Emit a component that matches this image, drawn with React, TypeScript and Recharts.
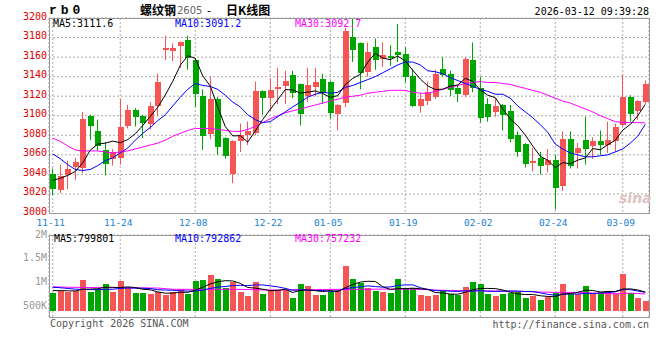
import { ComposedChart, Bar, Line, XAxis, YAxis, CartesianGrid } from 'recharts'

// trading days, 11-11 .. 03-12
const DATES = [
  '11-11', '11-12', '11-13', '11-14', '11-17', '11-18', '11-19', '11-20', '11-21',
  '11-24', '11-25', '11-26', '11-27', '11-28',
  '12-01', '12-02', '12-03', '12-04', '12-05',
  '12-08', '12-09', '12-10', '12-11', '12-12',
  '12-15', '12-16', '12-17', '12-18', '12-19',
  '12-22', '12-23', '12-24', '12-25', '12-26',
  '12-29', '12-30', '12-31',
  '01-05', '01-06', '01-07', '01-08', '01-09',
  '01-12', '01-13', '01-14', '01-15', '01-16',
  '01-19', '01-20', '01-21', '01-22', '01-23',
  '01-26', '01-27', '01-28', '01-29', '01-30',
  '02-02', '02-03', '02-04', '02-05', '02-06',
  '02-09', '02-10', '02-11', '02-12', '02-13',
  '02-24', '02-25', '02-26', '02-27',
  '03-02', '03-03', '03-04', '03-05', '03-06',
  '03-09', '03-10', '03-11', '03-12',
]
const DATE_TICKS = ['11-11', '11-24', '12-08', '12-22', '01-05', '01-19', '02-02', '02-24', '03-09']

const OPEN = [
  3040, 3024, 3039, 3048, 3047, 3100, 3084, 3065, 3056, 3057,
  3090, 3106, 3100, 3092, 3110, 3167, 3166, 3171, 3178, 3157,
  3120, 3081, 3117, 3077, 3040, 3074, 3080, 3082, 3125, 3118,
  3127, 3130, 3142, 3132, 3120, 3129, 3138, 3135, 3102, 3113,
  3181, 3174, 3145, 3170, 3158, 3161, 3165, 3163, 3141, 3110,
  3115, 3119, 3148, 3143, 3128, 3121, 3157, 3128, 3112, 3104,
  3111, 3105, 3080, 3071, 3052, 3057, 3050, 3055, 3028, 3076,
  3062, 3075, 3069, 3074, 3070, 3074, 3091, 3119, 3105, 3114,
]
const HIGH = [
  3046, 3050, 3054, 3057, 3104, 3101, 3096, 3073, 3066, 3117,
  3111, 3108, 3101, 3114, 3143, 3182, 3174, 3176, 3182, 3159,
  3127, 3140, 3119, 3078, 3075, 3092, 3094, 3135, 3126, 3138,
  3149, 3146, 3146, 3133, 3149, 3149, 3143, 3136, 3112, 3190,
  3199, 3175, 3175, 3179, 3175, 3172, 3194, 3170, 3148, 3123,
  3135, 3147, 3160, 3146, 3132, 3160, 3175, 3140, 3118, 3118,
  3112, 3111, 3084, 3072, 3067, 3063, 3066, 3060, 3084, 3084,
  3072, 3099, 3078, 3085, 3094, 3092, 3142, 3121, 3116, 3136,
]
const LOW = [
  3019, 3021, 3025, 3034, 3041, 3075, 3064, 3039, 3049, 3050,
  3087, 3089, 3077, 3086, 3100, 3157, 3156, 3149, 3147, 3109,
  3065, 3076, 3060, 3056, 3031, 3063, 3070, 3080, 3101, 3105,
  3112, 3112, 3118, 3090, 3114, 3120, 3112, 3097, 3085, 3109,
  3155, 3127, 3140, 3147, 3150, 3151, 3155, 3134, 3109, 3103,
  3111, 3117, 3140, 3120, 3114, 3119, 3124, 3093, 3094, 3099,
  3085, 3073, 3058, 3047, 3043, 3040, 3042, 3004, 3023, 3046,
  3046, 3050, 3056, 3060, 3062, 3063, 3089, 3094, 3096, 3112,
]
const CLOSE = [
  3025, 3038, 3046, 3053, 3097, 3090, 3069, 3051, 3063, 3089,
  3106, 3099, 3093, 3110, 3135, 3169, 3169, 3175, 3159, 3122,
  3079, 3117, 3068, 3059, 3074, 3080, 3084, 3125, 3118, 3126,
  3129, 3136, 3123, 3102, 3131, 3135, 3123, 3103, 3111, 3187,
  3167, 3144, 3165, 3157, 3162, 3159, 3162, 3140, 3110, 3117,
  3124, 3143, 3142, 3126, 3122, 3158, 3128, 3098, 3099, 3110,
  3101, 3076, 3063, 3051, 3054, 3049, 3055, 3026, 3076, 3049,
  3067, 3066, 3074, 3070, 3075, 3089, 3119, 3102, 3115, 3132,
]
const MA5 = [
  3034, 3036, 3039, 3043, 3051.8, 3064.8, 3071, 3072, 3074, 3072.4,
  3075.6, 3081.6, 3090, 3099.4, 3108.6, 3121.2, 3135.2, 3151.6, 3161.4, 3158.8,
  3140.8, 3130.4, 3109, 3089, 3079.4, 3079.6, 3073, 3084.4, 3096.2, 3106.6,
  3116.4, 3126.8, 3126.4, 3123.2, 3124.2, 3125.4, 3122.8, 3118.8, 3120.6, 3131.8,
  3138.2, 3142.4, 3154.8, 3164, 3159, 3157.4, 3161, 3156, 3146.6, 3137.6,
  3130.6, 3126.8, 3127.2, 3130.4, 3131.4, 3138.2, 3135.2, 3126.4, 3121, 3118.6,
  3107.2, 3096.8, 3089.8, 3080.2, 3069, 3058.6, 3054.4, 3047, 3052, 3051,
  3054.6, 3056.8, 3066.4, 3065.2, 3070.4, 3074.8, 3085.4, 3091, 3100, 3111.6,
]
const MA10 = [
  3061, 3056, 3050, 3045, 3044, 3045, 3049, 3054, 3057, 3062,
  3067, 3075, 3082, 3088, 3095, 3101, 3110, 3119, 3127, 3133,
  3131, 3130, 3127, 3121, 3114, 3109, 3101, 3096, 3093, 3094,
  3099, 3104, 3109, 3114, 3119, 3122, 3124, 3123, 3124, 3129,
  3131, 3134, 3137, 3140, 3144, 3148, 3152, 3155, 3155, 3152,
  3146, 3145, 3143, 3139, 3136, 3133, 3130, 3127, 3125, 3122,
  3122, 3118, 3110, 3104, 3098, 3091, 3083, 3071, 3066, 3062,
  3060, 3058, 3058, 3059, 3060, 3063, 3066, 3072, 3079, 3091.2,
]
const MA30 = [
  3077, 3074, 3069, 3065, 3064, 3064, 3064, 3063, 3062, 3063,
  3064, 3066, 3068, 3070, 3072, 3075, 3079, 3082, 3085, 3087,
  3087, 3087, 3086, 3085, 3084, 3084, 3086, 3089, 3093, 3097,
  3100, 3103, 3105, 3107, 3109, 3111, 3113, 3115, 3117, 3119,
  3120, 3121, 3123, 3124, 3125, 3126, 3126, 3126, 3124, 3123,
  3123, 3125, 3127, 3129, 3131, 3133, 3134, 3135, 3134, 3134,
  3133, 3132, 3130, 3128, 3126, 3124, 3121, 3118, 3115, 3113,
  3110, 3107, 3104, 3100, 3097, 3094, 3093, 3093, 3093, 3092.7,
]

// volume, in thousands
const VOL = [
  786, 821, 807, 821, 1053, 807, 856, 968, 807, 1032,
  877, 786, 786, 758, 807, 737, 807, 856, 758, 1032,
  1053, 1158, 1074, 877, 1003, 800, 723, 1010, 758, 842,
  842, 835, 674, 968, 926, 737, 737, 793, 842, 1347,
  1074, 989, 877, 821, 800, 779, 1074, 877, 877, 737,
  716, 737, 828, 758, 737, 905, 1010, 968, 758, 716,
  758, 779, 800, 681, 716, 632, 702, 779, 968, 758,
  758, 926, 758, 793, 821, 758, 1179, 779, 681, 611,
]
const VOL_MA5 = [
  830, 828, 825, 822, 857.6, 861.8, 868.8, 901, 898.2, 894,
  908, 894, 857.6, 847.8, 802.8, 774.8, 779, 793, 793, 838,
  901.2, 971.4, 1015, 1038.8, 1033, 982.4, 895.4, 882.6, 858.8, 826.6,
  835, 857.4, 790.2, 832.2, 849, 828, 808.4, 832.2, 807, 891.2,
  958.6, 1009, 1025.8, 1021.6, 912.2, 853.2, 870.2, 870.2, 881.4, 868.8,
  856.2, 788.8, 779, 755.2, 755.2, 793, 847.6, 875.6, 875.6, 871.4,
  842, 795.8, 762.2, 746.8, 746.8, 721.6, 706.2, 702, 759.4, 767.8,
  793, 837.8, 833.6, 798.6, 811.2, 811.2, 861.8, 866, 843.6, 799.8,
]
const VOL_MA10 = [
  900, 890, 875, 860, 855, 850, 850, 855, 858, 875.8,
  884.9, 881.4, 879.3, 873, 848.4, 841.4, 836.5, 825.3, 820.4, 820.4,
  838, 875.2, 904, 915.9, 935.5, 941.8, 933.4, 948.8, 948.8, 929.8,
  908.7, 876.4, 836.4, 845.5, 837.8, 831.5, 832.9, 811.2, 819.6, 870.1,
  893.3, 908.7, 929, 914.3, 901.7, 905.9, 939.6, 948, 951.5, 890.5,
  854.7, 829.5, 824.6, 818.3, 812, 824.6, 818.2, 827.3, 815.4, 813.3,
  817.5, 821.7, 818.9, 811.2, 809.1, 781.8, 751, 732.1, 753.1, 757.3,
  757.3, 772, 767.8, 779, 789.5, 802.1, 849.8, 849.8, 821.1, 792.9,
]
const VOL_MA30 = [
  910, 905, 900, 898, 896, 894, 893, 892, 891, 890,
  889, 888, 886, 885, 884, 870, 858, 856, 856, 856,
  856, 856, 856, 856, 856, 855, 852, 848, 845, 843,
  843, 845, 846, 847, 848, 850, 852, 855, 856, 856,
  856, 857, 858, 860, 862, 862, 862, 860, 858, 855,
  850, 842, 836, 832, 830, 828, 826, 824, 822, 821,
  820, 818, 815, 810, 805, 800, 795, 792, 792, 792,
  790, 785, 778, 770, 766, 765, 768, 775, 768, 757.2,
]

const PRICE_TICKS = [3000, 3020, 3040, 3060, 3080, 3100, 3120, 3140, 3160, 3180, 3200]
const VOL_TICKS = [500, 1000, 1500, 2000]
const VOL_TICK_LABELS = ['500K', '1M', '1.5M', '2M']
const VOL_FLOOR = 400

const rows = DATES.map((date, i) => ({
  date,
  open: OPEN[i],
  high: HIGH[i],
  low: LOW[i],
  close: CLOSE[i],
  ma5: MA5[i],
  ma10: MA10[i],
  ma30: MA30[i],
  vol: VOL[i],
  vma5: VOL_MA5[i],
  vma10: VOL_MA10[i],
  vma30: VOL_MA30[i],
}))

const RED = '#f65555'
const GREEN = '#00a600'
const MONO = '"DejaVu Sans Mono", "Liberation Mono", monospace'

function Candle(props: any) {
  const { x, y, width, height, payload } = props
  const top = Math.min(y, y + height)
  const h = Math.abs(height)
  const { open, close, high, low } = payload
  const k = h / (high - low || 1)
  const bTop = top + (high - Math.max(open, close)) * k
  const bBot = top + (high - Math.min(open, close)) * k
  const color = close >= open ? RED : GREEN
  const cx = Math.round(x + width / 2) - 0.5
  return (
    <g>
      <line x1={cx} x2={cx} y1={top} y2={top + h} stroke={color} strokeWidth={1} />
      <rect x={x} y={bTop} width={width} height={Math.max(bBot - bTop, 1)} fill={color} shapeRendering="crispEdges" />
    </g>
  )
}

function VolBar(props: any) {
  const { x, y, width, height, payload } = props
  const top = Math.min(y, y + height)
  const color = payload.close >= payload.open ? RED : GREEN
  return <rect x={x} y={top} width={width} height={Math.abs(height)} fill={color} shapeRendering="crispEdges" />
}

const PriceTick = ({ y, payload }: any) => (
  <text x={47} y={y - 2} textAnchor="end" dominantBaseline="central" fill="#e00000" fontFamily={MONO} fontSize={10}>
    {payload.value}
  </text>
)

const DateTick = ({ x, payload }: any) => (
  <text x={x - 2} y={222} textAnchor="middle" dominantBaseline="central" fill="#1a7fd4" fontFamily={MONO} fontSize={9.5}>
    {payload.value}
  </text>
)

const VolTick = ({ y, payload }: any) => (
  <text x={47} y={y - 1} textAnchor="end" dominantBaseline="central" fill="#999" fontFamily={MONO} fontSize={10}>
    {VOL_TICK_LABELS[VOL_TICKS.indexOf(payload.value)]}
  </text>
)

const NoTick = () => <g />

const txt = (left: number, top: number, color: string, extra: any = {}) => ({
  position: 'absolute' as const,
  left,
  top,
  color,
  fontFamily: MONO,
  fontSize: 10,
  lineHeight: '11px',
  whiteSpace: 'nowrap' as const,
  ...extra,
})

export default function App() {
  const grid = { stroke: '#aaa', strokeDasharray: '2 2' }
  const cjk = { fontFamily: '"Noto Sans CJK SC", sans-serif', fontSize: 12, lineHeight: '12px' }
  return (
    <div style={{ position: 'absolute', left: 0, top: 0, width: 660, height: 360, background: '#fff', overflow: 'hidden' }}>
      <div style={{ position: 'absolute', left: 0, top: 0 }}>
        <ComposedChart width={660} height={230} data={rows} margin={{ top: 18, right: 11, bottom: 0, left: 0 }}>
          <CartesianGrid {...grid} />
          <XAxis dataKey="date" ticks={DATE_TICKS} interval={0} height={16.5} tickLine={false} axisLine={false} tick={<DateTick />} />
          <YAxis type="number" domain={[3000, 3200]} ticks={PRICE_TICKS} interval={0} width={49} tickLine={false} axisLine={false} tick={<PriceTick />} />
          <Bar dataKey={(d: any) => [d.low, d.high]} barSize={6} shape={<Candle />} isAnimationActive={false} />
          <Line type="linear" dataKey="ma30" stroke="#ff00ff" strokeWidth={1} dot={false} isAnimationActive={false} />
          <Line type="linear" dataKey="ma10" stroke="#0000ff" strokeWidth={1} dot={false} isAnimationActive={false} />
          <Line type="linear" dataKey="ma5" stroke="#000" strokeWidth={1} dot={false} isAnimationActive={false} />
        </ComposedChart>
      </div>
      <div style={{ position: 'absolute', left: 0, top: 220 }}>
        <ComposedChart width={660} height={140} data={rows} margin={{ top: 15, right: 11, bottom: 42.5, left: 0 }}>
          <CartesianGrid {...grid} yAxisId="g" />
          <XAxis dataKey="date" ticks={DATE_TICKS} interval={0} height={0} tick={<NoTick />} tickLine={false} axisLine={false} />
          <YAxis type="number" domain={[263.4, 2000]} ticks={VOL_TICKS} interval={0} width={49} tickLine={false} axisLine={false} tick={<VolTick />} />
          <YAxis yAxisId="g" orientation="right" type="number" domain={[0, 4]} ticks={[0, 1, 2, 3, 4]} interval={0} width={0} tick={<NoTick />} tickLine={false} axisLine={false} />
          <Bar dataKey={(d: any) => [VOL_FLOOR, d.vol]} barSize={6} shape={<VolBar />} isAnimationActive={false} />
          <Line type="linear" dataKey="vma30" stroke="#ff00ff" strokeWidth={1} dot={false} isAnimationActive={false} />
          <Line type="linear" dataKey="vma10" stroke="#0000ff" strokeWidth={1} dot={false} isAnimationActive={false} />
          <Line type="linear" dataKey="vma5" stroke="#000" strokeWidth={1} dot={false} isAnimationActive={false} />
        </ComposedChart>
      </div>

      <div style={{ position: 'absolute', left: 49, top: 18, width: 601, height: 196, border: '1px solid #999', boxSizing: 'border-box' }} />
      <div style={{ position: 'absolute', left: 49, top: 235, width: 601, height: 83, border: '1px solid #999', boxSizing: 'border-box' }} />

      <div style={txt(49, 4, '#000', { fontFamily: '"Liberation Mono", monospace', fontWeight: 'bold', fontSize: 13, lineHeight: '13px', letterSpacing: 4 })}>rb0</div>
      <div style={txt(140, 4, '#000', { ...cjk, fontWeight: 'bold' })}>螺纹钢</div>
      <div style={txt(177, 5, '#666', { fontFamily: '"DejaVu Sans", sans-serif', fontSize: 10 })}>2605</div>
      <div style={txt(207, 4, '#000', cjk)}>-</div>
      <div style={txt(226, 4, '#000', { ...cjk, fontWeight: 'bold' })}>日K线图</div>
      <div style={txt(0, 6, '#000', { left: undefined, right: 11 })}>2026-03-12 09:39:28</div>

      <div style={txt(53, 18, '#000')}>MA5:{MA5[MA5.length - 1]}</div>
      <div style={txt(175, 18, '#0000ff')}>MA10:{MA10[MA10.length - 1]}</div>
      <div style={txt(295, 18, '#ff00ff')}>MA30:{MA30[MA30.length - 1]}</div>

      <div style={txt(54, 233, '#000')}>MA5:799801</div>
      <div style={txt(175, 233, '#0000ff')}>MA10:792862</div>
      <div style={txt(295, 233, '#ff00ff')}>MA30:757232</div>

      <div style={txt(619, 190, '#dcc2c2', { fontFamily: '"DejaVu Sans", sans-serif', fontSize: 14, fontWeight: 'bold', fontStyle: 'italic', lineHeight: '16px' })}>sina</div>

      <div style={txt(50, 318, '#555')}>Copyright 2026 SINA.COM</div>
      <div style={txt(0, 319, '#555', { left: undefined, right: 11 })}>http://finance.sina.com.cn</div>
    </div>
  )
}
